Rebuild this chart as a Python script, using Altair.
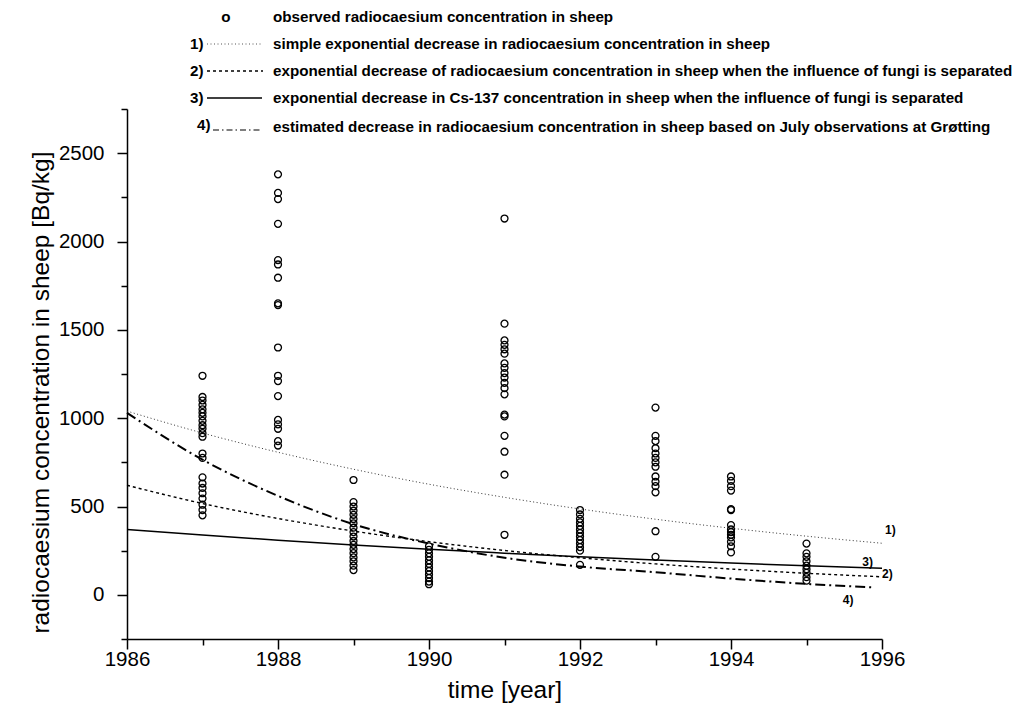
import altair as alt
import pandas as pd

FONT = "Liberation Sans"

# ---------------- observed radiocaesium concentration in sheep [Bq/kg] ----------------
obs_1987 = [1240, 1120, 1100, 1075, 1050, 1030, 1010, 985, 960, 940, 915, 895, 800, 775,
            665, 630, 605, 575, 545, 510, 480, 450]
obs_1988 = [2380, 2275, 2240, 2100, 1895, 1870, 1795, 1650, 1640, 1400, 1240, 1210, 1125,
            990, 965, 940, 870, 845]
obs_1989 = [650, 525, 500, 476, 453, 429, 405, 380, 355, 330, 305, 283, 259, 236, 212,
            190, 165, 140]
obs_1990 = [275, 255, 235, 215, 195, 175, 155, 135, 115, 95, 75, 60]
obs_1991 = [2130, 1535, 1440, 1415, 1390, 1365, 1310, 1285, 1255, 1230, 1200, 1170, 1135,
            1020, 1010, 900, 810, 680, 340]
obs_1992 = [480, 455, 430, 410, 390, 370, 350, 330, 310, 290, 270, 250, 170]
obs_1993 = [1060, 900, 870, 830, 800, 775, 750, 725, 670, 640, 615, 580, 360, 215]
obs_1994 = [670, 645, 615, 590, 485, 480, 395, 370, 355, 340, 325, 300, 275, 240]
obs_1995 = [290, 235, 215, 190, 165, 145, 125, 100, 80]

obs_years = [1987, 1988, 1989, 1990, 1991, 1992, 1993, 1994, 1995]
obs_values = [obs_1987, obs_1988, obs_1989, obs_1990, obs_1991, obs_1992, obs_1993,
              obs_1994, obs_1995]

# ---------------- model curves ----------------
curve_years = [1986, 1987, 1988, 1989, 1990, 1991, 1992, 1993, 1994, 1995, 1996]
curve1 = [1040, 916, 807, 711, 626, 552, 486, 428, 377, 332, 292]   # 1) simple exponential
curve2 = [620, 517, 432, 361, 301, 251, 210, 175, 146, 122, 102]    # 2) fungi separated
curve3 = [370, 338, 309, 282, 258, 236, 215, 197, 180, 164, 150]    # 3) Cs-137, fungi separated
curve4_years = [1986, 1987, 1988, 1989, 1990, 1991, 1992, 1993, 1994, 1995, 1995.9]
curve4 = [1030, 765, 560, 400, 290, 210, 160, 128, 92, 62, 42]      # 4) July observations

legend_marks = ["o", "1)", "2)", "3)", "4)"]
legend_texts = [
    "observed radiocaesium concentration in sheep",
    "simple exponential decrease in radiocaesium concentration in sheep",
    "exponential decrease of radiocaesium concentration in sheep when the influence of fungi is separated",
    "exponential decrease in Cs-137 concentration in sheep when the influence of fungi is separated",
    "estimated decrease in radiocaesium concentration in sheep based on July observations at Grøtting",
]
end_labels = ["1)", "3)", "2)", "4)"]

x_label = "time [year]"
y_label = "radiocaesium concentration in sheep [Bq/kg]"

# ---------------- tables ----------------
obs_rows = []
for yr, vals in zip(obs_years, obs_values):
    for v in vals:
        obs_rows.append({"year": yr, "value": v})
obs_df = pd.DataFrame(obs_rows)

c1 = pd.DataFrame({"year": curve_years, "value": curve1})
c2 = pd.DataFrame({"year": curve_years, "value": curve2})
c3 = pd.DataFrame({"year": curve_years, "value": curve3})
c4 = pd.DataFrame({"year": curve4_years, "value": curve4})

xs = alt.Scale(domain=[1986, 1996], nice=False, zero=False)
ys = alt.Scale(domain=[-250, 2750], nice=False, zero=False)

common_axis = dict(grid=False, domainColor="black", tickColor="black", labelColor="black",
                   titleColor="black", labelFont=FONT, titleFont=FONT)

x_major = alt.Axis(orient="bottom", values=[1986, 1988, 1990, 1992, 1994, 1996], format="d",
                   title=x_label, tickSize=10, tickWidth=1.5, domainWidth=1.5,
                   labelFontSize=20.5, labelPadding=0, labelFlush=False, labelOverlap=False,
                   titleFontSize=24.5, titleFontWeight="normal", titleBaseline="middle",
                   titleY=51, **common_axis)
x_minor = alt.Axis(orient="bottom", values=[1987, 1989, 1991, 1993, 1995], labels=False,
                   domain=False, title="", tickSize=6, tickWidth=1.5, **common_axis)
y_major = alt.Axis(orient="left", values=[0, 500, 1000, 1500, 2000, 2500], format="d",
                   title=y_label, tickSize=10, tickWidth=1.5, domainWidth=1.5,
                   labelFontSize=20.5, labelPadding=13, labelOverlap=False,
                   titleFontSize=24.5, titleFontWeight="normal", titleAngle=270,
                   titleAlign="center", titleBaseline="middle", titleX=-86, titleY=283,
                   **common_axis)
y_minor = alt.Axis(orient="left", values=[-250, 250, 750, 1250, 1750, 2250, 2750],
                   labels=False, domain=False, title="", tickSize=6, tickWidth=1.5,
                   **common_axis)


def curve(df, color, width, dash=None):
    props = dict(color=color, strokeWidth=width, interpolate="monotone")
    if dash:
        props["strokeDash"] = dash
    return alt.Chart(df).mark_line(**props).encode(
        x=alt.X("year:Q", scale=xs, axis=None),
        y=alt.Y("value:Q", scale=ys, axis=None),
    )


l1 = curve(c1, "#333333", 1, [1, 2.5])
l2 = curve(c2, "black", 1.4, [3, 3])
l3 = curve(c3, "black", 1.5)
l4 = curve(c4, "black", 2, [10, 4, 2, 4])

pts = alt.Chart(obs_df).mark_point(shape="circle", filled=False, color="black", size=48,
                                    strokeWidth=1.3, opacity=1).encode(
    x=alt.X("year:Q", scale=xs, axis=x_major),
    y=alt.Y("value:Q", scale=ys, axis=y_major),
)
minor = alt.Chart(obs_df).mark_point(opacity=0).encode(
    x=alt.X("year:Q", scale=xs, axis=x_minor),
    y=alt.Y("value:Q", scale=ys, axis=y_minor),
)

# curve-end labels (annotation positions in data units)
end_x = [1996.04, 1995.74, 1996.0, 1995.48]
end_y = [368, 187, 119, -28]
end_df = pd.DataFrame({"year": end_x, "value": end_y, "label": end_labels})
ends = alt.Chart(end_df).mark_text(font=FONT, fontSize=12, fontWeight="bold", align="left",
                                   baseline="middle", color="black").encode(
    x=alt.X("year:Q", scale=xs, axis=None),
    y=alt.Y("value:Q", scale=ys, axis=None),
    text="label:N",
)

# ---------------- legend (pixel placement above plot) ----------------
one = pd.DataFrame({"a": [0]})


def ptxt(label, x, y, size=15.2, weight="bold", align="left"):
    return alt.Chart(one).mark_text(text=label, font=FONT, fontSize=size, fontWeight=weight,
                                    align=align, baseline="middle", color="black").encode(
        x=alt.value(x), y=alt.value(y))


def sample(x1, x2, y, color, width, dash=None):
    props = dict(color=color, strokeWidth=width)
    if dash:
        props["strokeDash"] = dash
    return alt.Chart(one).mark_rule(**props).encode(x=alt.value(x1), x2=alt.value(x2),
                                                     y=alt.value(y))


row_y = [-92, -65, -38, -11, 18]
legend_layers = []
for i, (mk, tx) in enumerate(zip(legend_marks, legend_texts)):
    legend_layers.append(ptxt(tx, 146, row_y[i]))
legend_layers.append(ptxt(legend_marks[0], 99, row_y[0], align="center"))
for i in (1, 2, 3):
    legend_layers.append(ptxt(legend_marks[i], 63, row_y[i]))
legend_layers.append(ptxt(legend_marks[4], 70, row_y[4] - 2))
legend_layers.append(sample(80, 135, row_y[1], "#555555", 1, [1, 2.5]))
legend_layers.append(sample(80, 136, row_y[2], "black", 1.4, [3, 3]))
legend_layers.append(sample(80, 135, row_y[3], "black", 1.5))
legend_layers.append(sample(86, 133, row_y[4] + 3, "black", 1.2, [6, 3, 1.5, 3]))

chart = alt.layer(l1, l2, l3, l4, pts, minor, ends, *legend_layers).resolve_axis(
    x="independent", y="independent"
).properties(
    width=755, height=530,
    autosize=alt.AutoSizeParams(type="none"),
    padding={"left": 119, "top": 101, "right": 130, "bottom": 75},
    background="white",
).configure_view(strokeWidth=0)

chart.save("out.html", embed_options={"renderer": "svg", "actions": False})
